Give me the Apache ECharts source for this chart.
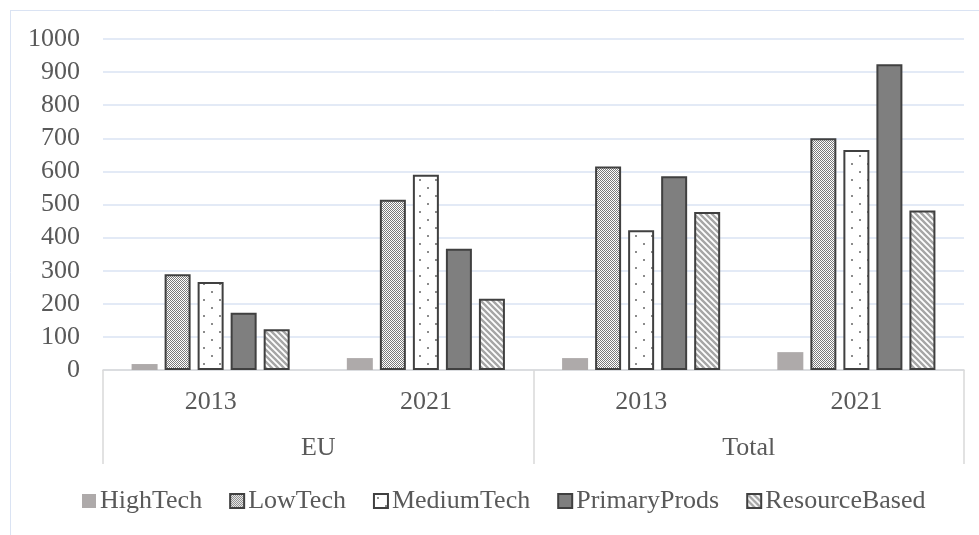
<!DOCTYPE html>
<html>
<head>
<meta charset="utf-8">
<title>Exports by technology class</title>
<script src="https://cdn.jsdelivr.net/npm/echarts@6/dist/echarts.min.js"></script>
<style>
  html, body { margin: 0; padding: 0; background: #fff; }
  #chart { width: 979px; height: 535px; }
</style>
</head>
<body>
<div id="chart"></div>
<script>
// data
const years = ['2013', '2021', '2013', '2021']
const regions = ['EU', 'Total']
const seriesNames = ['HighTech', 'LowTech', 'MediumTech', 'PrimaryProds', 'ResourceBased']
const highTech = [18, 36, 36, 54]
const lowTech = [289, 514, 615, 700]
const mediumTech = [266, 590, 422, 665]
const primaryProds = [173, 366, 585, 924]
const resourceBased = [123, 215, 477, 482]
const yTicks = [0, 100, 200, 300, 400, 500, 600, 700, 800, 900, 1000]

const FONT = 'Liberation Serif'
const TEXT = '#595959'
const FS = 26

// fill patterns
function makeTile(w, h, draw) {
  const c = document.createElement('canvas')
  c.width = w
  c.height = h
  const ctx = c.getContext('2d')
  ctx.fillStyle = '#fff'
  ctx.fillRect(0, 0, w, h)
  draw(ctx)
  return { image: c, repeat: 'repeat' }
}

const checker = makeTile(2, 2, ctx => {
  ctx.fillStyle = '#7a7a7a'
  ctx.fillRect(0, 0, 1, 1)
  ctx.fillRect(1, 1, 1, 1)
})

const dots = makeTile(16, 16, ctx => {
  ctx.fillStyle = '#8c8c8c'
  ctx.fillRect(3, 3, 2, 2)
  ctx.fillRect(11, 11, 2, 2)
})

const stripes = makeTile(6, 6, ctx => {
  ctx.strokeStyle = '#a6a6a6'
  ctx.lineWidth = 2.4
  ctx.beginPath()
  for (let k = -6; k <= 6; k += 6) {
    ctx.moveTo(k - 1, -1)
    ctx.lineTo(k + 7, 7)
  }
  ctx.stroke()
})

const chart = echarts.init(document.getElementById('chart'))

const border = { borderColor: '#404040', borderWidth: 2 }

function bar(name, data, itemStyle) {
  return {
    name: name,
    type: 'bar',
    xAxisIndex: 0,
    data: data,
    barWidth: 26,
    barGap: '27%',
    itemStyle: itemStyle
  }
}

const option = {
  animation: false,
  textStyle: { fontFamily: FONT },
  grid: { left: 103, right: 15, top: 39, bottom: 165, containLabel: false },
  graphic: [
    { type: 'line', shape: { x1: 10, y1: 10.5, x2: 979, y2: 10.5 }, style: { stroke: '#dae3f3', lineWidth: 1 } },
    { type: 'line', shape: { x1: 10.5, y1: 10, x2: 10.5, y2: 535 }, style: { stroke: '#dae3f3', lineWidth: 1 } }
  ],
  legend: {
    data: seriesNames,
    left: 77,
    top: 483,
    itemWidth: 14,
    itemHeight: 14,
    itemGap: 27,
    icon: 'rect',
    textStyle: { fontFamily: FONT, fontSize: FS, color: TEXT, padding: [0, 0, 0, -1] }
  },
  xAxis: [
    {
      type: 'category',
      data: years,
      axisLine: { lineStyle: { color: '#d9d9d9', width: 1.5 } },
      axisTick: { show: false },
      axisLabel: { fontFamily: FONT, fontSize: FS, color: TEXT, margin: 19 }
    },
    {
      type: 'category',
      data: regions,
      position: 'bottom',
      axisLine: { show: false },
      axisTick: { show: true, length: 94, lineStyle: { color: '#d9d9d9', width: 1.5 } },
      axisLabel: { fontFamily: FONT, fontSize: FS, color: TEXT, margin: 65 }
    }
  ],
  yAxis: {
    type: 'value',
    min: yTicks[0],
    max: yTicks[yTicks.length - 1],
    interval: yTicks[1] - yTicks[0],
    axisLine: { show: false },
    axisTick: { show: false },
    splitLine: { lineStyle: { color: '#dae3f3', width: 1.5 } },
    axisLabel: { fontFamily: FONT, fontSize: FS, color: TEXT, margin: 23, formatter: v => String(v) }
  },
  series: [
    bar('HighTech', highTech, { color: '#aeaaaa' }),
    bar('LowTech', lowTech, Object.assign({ color: checker }, border)),
    bar('MediumTech', mediumTech, Object.assign({ color: dots }, border)),
    bar('PrimaryProds', primaryProds, Object.assign({ color: '#7f7f7f' }, border)),
    bar('ResourceBased', resourceBased, Object.assign({ color: stripes }, border))
  ]
}

chart.setOption(option)
</script>
</body>
</html>
